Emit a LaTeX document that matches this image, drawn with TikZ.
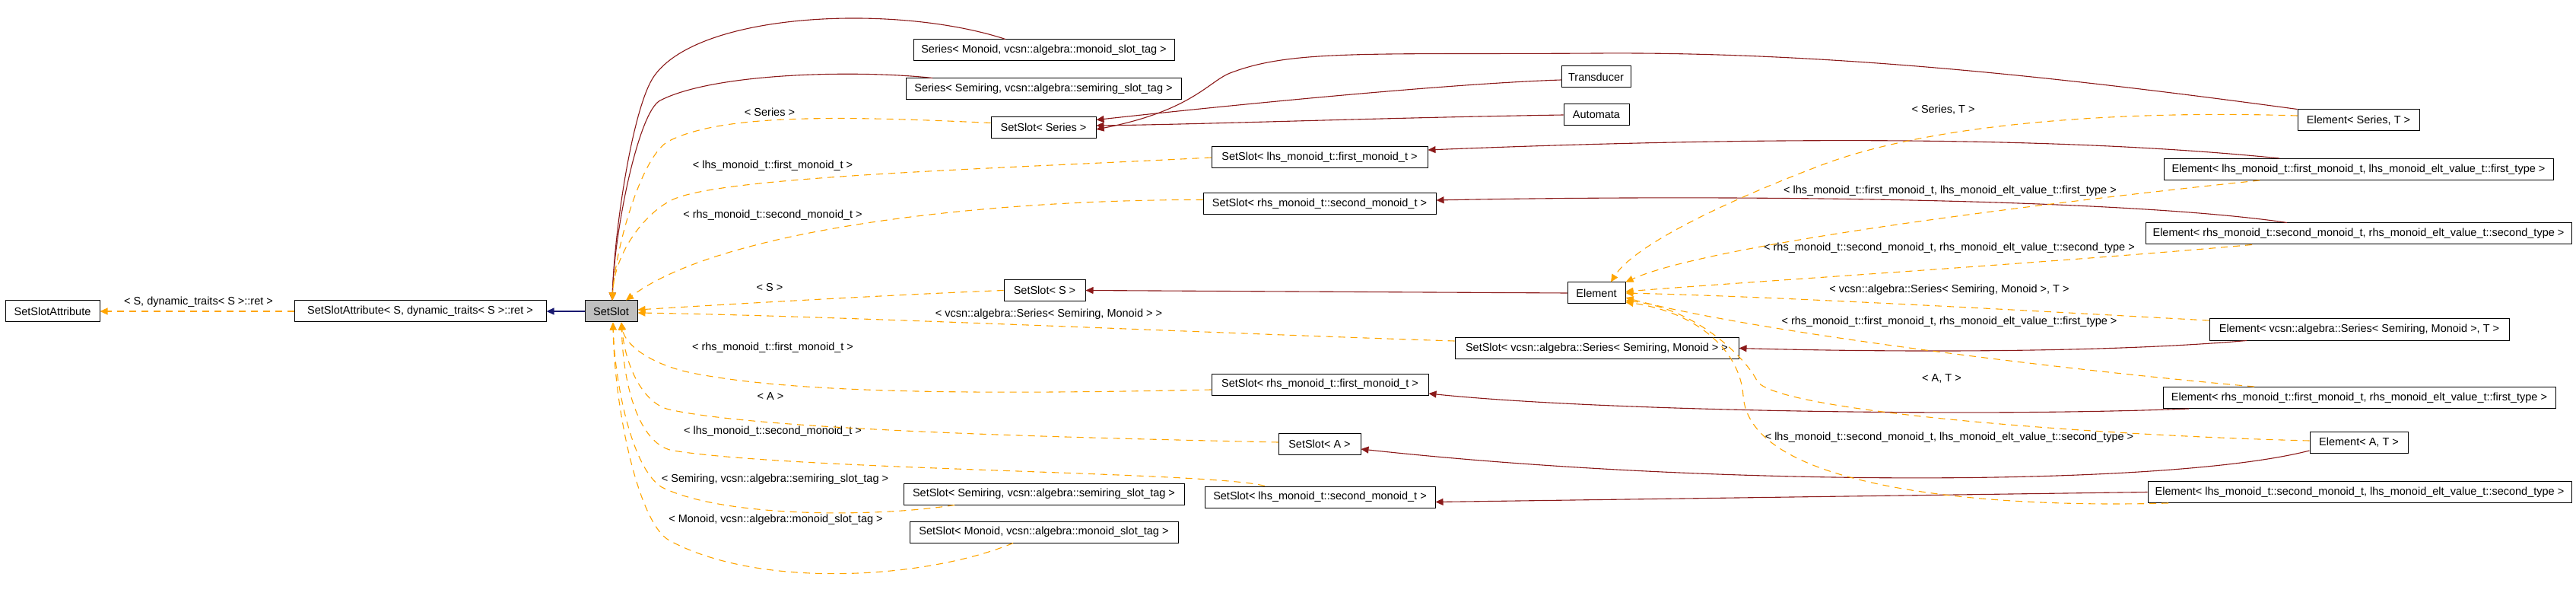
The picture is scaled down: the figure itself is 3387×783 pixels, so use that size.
\documentclass[tikz,border=0pt]{standalone}
\usepackage{fontspec}
\setmainfont{Liberation Sans}
\usetikzlibrary{arrows.meta}
\definecolor{derivcol}{HTML}{8B1A1A}
\definecolor{tmplcol}{HTML}{FFA500}
\definecolor{basecol}{HTML}{191970}
\definecolor{curfill}{HTML}{BFBFBF}

\begin{document}
\begin{tikzpicture}[
    x=1pt, y=-1pt,
    cls/.style={rectangle, draw, minimum height=28pt, inner xsep=2pt, inner ysep=0pt, line width=1pt, font=\fontsize{14.5}{16}\selectfont},
    cur/.style={cls, fill=curfill},
    lbl/.style={inner sep=0pt, font=\fontsize{14.5}{16}\selectfont},
    derive/.style={-{Triangle[length=10pt,width=9pt]}, draw=derivcol, line width=1.1pt},
    tmpl/.style={-{Triangle[length=10pt,width=9pt]}, draw=tmplcol, line width=1.1pt, dash pattern=on 9pt off 7pt},
    pub/.style={-{Triangle[length=10pt,width=9pt]}, draw=basecol, line width=1.1pt}
]
\useasboundingbox (0,0) rectangle (3387,783);

% Classes
\node[cls, minimum width=124] (attr) at (69,409) {SetSlotAttribute};
\node[cls, minimum width=331] (attrS) at (552.5,409) {SetSlotAttribute< S, dynamic\_traits< S >::ret >};
\node[cur, minimum width=69] (setslot) at (803.5,409) {SetSlot};
\node[cls, minimum width=343] (serMon) at (1372.5,66) {Series< Monoid, vcsn::algebra::monoid\_slot\_tag >};
\node[cls, minimum width=362] (serSem) at (1372,117) {Series< Semiring, vcsn::algebra::semiring\_slot\_tag >};
\node[cls, minimum width=138] (ssSeries) at (1372,167.5) {SetSlot< Series >};
\node[cls, minimum width=91] (transducer) at (2098.5,101) {Transducer};
\node[cls, minimum width=86] (automata) at (2099,151) {Automata};
\node[cls, minimum width=284] (ssLhsFirst) at (1735,207) {SetSlot< lhs\_monoid\_t::first\_monoid\_t >};
\node[cls, minimum width=306] (ssRhsSecond) at (1735,267.5) {SetSlot< rhs\_monoid\_t::second\_monoid\_t >};
\node[cls, minimum width=107] (ssS) at (1373.5,381.5) {SetSlot< S >};
\node[cls, minimum width=76] (element) at (2099,385) {Element};
\node[cls, minimum width=373] (ssVcsn) at (2099.5,457.5) {SetSlot< vcsn::algebra::Series< Semiring, Monoid > >};
\node[cls, minimum width=285] (ssRhsFirst) at (1735.5,505) {SetSlot< rhs\_monoid\_t::first\_monoid\_t >};
\node[cls, minimum width=108] (ssA) at (1735,583) {SetSlot< A >};
\node[cls, minimum width=303] (ssLhsSecond) at (1735.5,653) {SetSlot< lhs\_monoid\_t::second\_monoid\_t >};
\node[cls, minimum width=369] (ssSemTag) at (1372.5,649) {SetSlot< Semiring, vcsn::algebra::semiring\_slot\_tag >};
\node[cls, minimum width=353] (ssMonTag) at (1372.5,699) {SetSlot< Monoid, vcsn::algebra::monoid\_slot\_tag >};
\node[cls, minimum width=160] (elSeriesT) at (3101,158) {Element< Series, T >};
\node[cls, minimum width=512] (elLhsFirst) at (3101,222.5) {Element< lhs\_monoid\_t::first\_monoid\_t, lhs\_monoid\_elt\_value\_t::first\_type >};
\node[cls, minimum width=560] (elRhsSecond) at (3101,307) {Element< rhs\_monoid\_t::second\_monoid\_t, rhs\_monoid\_elt\_value\_t::second\_type >};
\node[cls, minimum width=394] (elVcsn) at (3102,433) {Element< vcsn::algebra::Series< Semiring, Monoid >, T >};
\node[cls, minimum width=516] (elRhsFirst) at (3102,522.5) {Element< rhs\_monoid\_t::first\_monoid\_t, rhs\_monoid\_elt\_value\_t::first\_type >};
\node[cls, minimum width=129] (elAT) at (3101.5,581.5) {Element< A, T >};
\node[cls, minimum width=557] (elLhsSecond) at (3102.5,646.5) {Element< lhs\_monoid\_t::second\_monoid\_t, lhs\_monoid\_elt\_value\_t::second\_type >};

% Etiquettes
\node[lbl] (lAttr) at (261,397) {< S, dynamic\_traits< S >::ret >};
\node[lbl] (lSeries) at (1012,147) {< Series >};
\node[lbl] (lLhsFirst) at (1016,218) {< lhs\_monoid\_t::first\_monoid\_t >};
\node[lbl] (lRhsSecond) at (1016,283) {< rhs\_monoid\_t::second\_monoid\_t >};
\node[lbl] (lS) at (1012,378) {< S >};
\node[lbl] (lVcsn) at (1379,413) {< vcsn::algebra::Series< Semiring, Monoid > >};
\node[lbl] (lRhsFirst) at (1016,457) {< rhs\_monoid\_t::first\_monoid\_t >};
\node[lbl] (lA) at (1013,521) {< A >};
\node[lbl] (lLhsSecond) at (1016,567) {< lhs\_monoid\_t::second\_monoid\_t >};
\node[lbl] (lSemTag) at (1019,630) {< Semiring, vcsn::algebra::semiring\_slot\_tag >};
\node[lbl] (lMonTag) at (1020,683) {< Monoid, vcsn::algebra::monoid\_slot\_tag >};
\node[lbl] (lSeriesT) at (2555,144) {< Series, T >};
\node[lbl] (lElLhsFirst) at (2564,251) {< lhs\_monoid\_t::first\_monoid\_t, lhs\_monoid\_elt\_value\_t::first\_type >};
\node[lbl] (lElRhsSecond) at (2563,326) {< rhs\_monoid\_t::second\_monoid\_t, rhs\_monoid\_elt\_value\_t::second\_type >};
\node[lbl] (lElVcsn) at (2563,381) {< vcsn::algebra::Series< Semiring, Monoid >, T >};
\node[lbl] (lElRhsFirst) at (2563,423) {< rhs\_monoid\_t::first\_monoid\_t, rhs\_monoid\_elt\_value\_t::first\_type >};
\node[lbl] (lAT) at (2553,497) {< A, T >};
\node[lbl] (lElLhsSecond) at (2563,575) {< lhs\_monoid\_t::second\_monoid\_t, lhs\_monoid\_elt\_value\_t::second\_type >};

% Base de SetSlot
\draw[pub] (setslot) -- (attrS);
\draw[tmpl] (attrS) -- (attr);

% Vers SetSlot
\draw[derive] ([xshift=-50.5pt]serMon.north) .. controls (1180,5) and (920,15) .. (860,100) .. controls (832,140) and (808,300) .. ([xshift=1.5pt]setslot.north);
\draw[derive] ([xshift=-146pt]serSem.north) .. controls (1130,92) and (940,95) .. (868,132) .. controls (840,146) and (808,300) .. ([xshift=1.5pt]setslot.north);
\draw[tmpl] ([yshift=6pt]ssSeries.west) .. controls (1100,152) and (950,150) .. (880,185) .. controls (845,202) and (810,320) .. ([xshift=1.5pt]setslot.north);
\draw[tmpl] (ssLhsFirst.west) .. controls (1300,222) and (950,232) .. (885,262) .. controls (850,278) and (808,330) .. ([xshift=1.5pt]setslot.north);
\draw[tmpl] ([yshift=5pt]ssRhsSecond.west) .. controls (1300,262) and (950,300) .. ([xshift=19.5pt]setslot.north);
\draw[tmpl] (ssS.west) .. controls (1200,386) and (950,400) .. ([yshift=2pt]setslot.east);
\draw[tmpl] ([yshift=9.5pt]ssVcsn.west) .. controls (1600,438) and (1100,415) .. ([yshift=-2pt]setslot.east);
\draw[tmpl] ([yshift=-7pt]ssRhsFirst.west) .. controls (1300,518) and (1050,518) .. (910,490) .. controls (860,480) and (822,455) .. ([xshift=13.5pt]setslot.south);
\draw[tmpl] ([yshift=2pt]ssA.west) .. controls (1400,575) and (1000,565) .. (880,538) .. controls (845,530) and (822,480) .. ([xshift=13.5pt]setslot.south);
\draw[tmpl] ([xshift=-72.5pt]ssLhsSecond.north) .. controls (1600,620) and (1050,618) .. (885,592) .. controls (845,585) and (820,520) .. ([xshift=13.5pt]setslot.south);
\draw[tmpl] ([xshift=-117.5pt]ssSemTag.south) .. controls (1150,680) and (950,680) .. (870,640) .. controls (830,615) and (808,500) .. ([xshift=2.5pt]setslot.south);
\draw[tmpl] ([xshift=-40.5pt]ssMonTag.south) .. controls (1220,760) and (1000,775) .. (880,710) .. controls (840,688) and (808,540) .. ([xshift=2.5pt]setslot.south);

% Vers SetSlot< Series >
\draw[derive] ([yshift=-4pt]transducer.west) .. controls (1900,110) and (1600,140) .. ([yshift=10pt]ssSeries.east);
\draw[derive] (automata.west) .. controls (1800,155) and (1600,163) .. ([yshift=2.5pt]ssSeries.east);
\draw[derive] (elSeriesT.north west) .. controls (2700,100) and (2400,68) .. (2100,70) .. controls (1800,72) and (1700,65) .. (1620,95) .. controls (1590,105) and (1570,145) .. ([yshift=-2.5pt]ssSeries.east);

% Vers les autres SetSlot
\draw[derive] ([xshift=-104pt]elLhsFirst.north) .. controls (2700,178) and (2300,180) .. ([yshift=10pt]ssLhsFirst.east);
\draw[derive] ([xshift=-94pt]elRhsSecond.north) .. controls (2800,262) and (2300,255) .. ([yshift=4.5pt]ssRhsSecond.east);
\draw[derive] (element.west) -- (ssS.east);
\draw[derive] ([xshift=-148pt]elVcsn.south) .. controls (2750,465) and (2450,462) .. (ssVcsn.east);
\draw[derive] ([xshift=-224pt]elRhsFirst.south) .. controls (2600,548) and (2100,540) .. ([yshift=-12pt]ssRhsFirst.east);
\draw[derive] ([yshift=-10.5pt]elAT.west) .. controls (2850,640) and (2250,640) .. ([yshift=-7pt]ssA.east);
\draw[derive] (elLhsSecond.west) -- ([yshift=-6.5pt]ssLhsSecond.east);

% Vers Element
\draw[tmpl] ([yshift=6pt]elSeriesT.west) .. controls (2800,145) and (2550,160) .. (2400,215) .. controls (2280,260) and (2150,320) .. ([xshift=19pt]element.north);
\draw[tmpl] ([xshift=-130pt]elLhsFirst.south) .. controls (2700,265) and (2250,320) .. (element.north east);
\draw[tmpl] ([xshift=-140pt]elRhsSecond.south) .. controls (2700,345) and (2300,370) .. ([yshift=2pt]element.east);
\draw[tmpl] ([yshift=12pt]elVcsn.west) .. controls (2700,410) and (2350,390) .. (element.east);
\draw[tmpl] ([xshift=-138pt]elRhsFirst.north) .. controls (2650,480) and (2280,430) .. ([yshift=-6pt]element.east);
\draw[tmpl] ([yshift=2.5pt]elAT.west) .. controls (2750,572) and (2330,540) .. (2310,500) .. controls (2295,470) and (2230,405) .. ([yshift=-10pt]element.east);
\draw[tmpl] ([xshift=-251.5pt]elLhsSecond.south) .. controls (2600,668) and (2300,640) .. (2292,520) .. controls (2288,460) and (2230,410) .. ([yshift=-12pt]element.east);

\end{tikzpicture}
\end{document}
